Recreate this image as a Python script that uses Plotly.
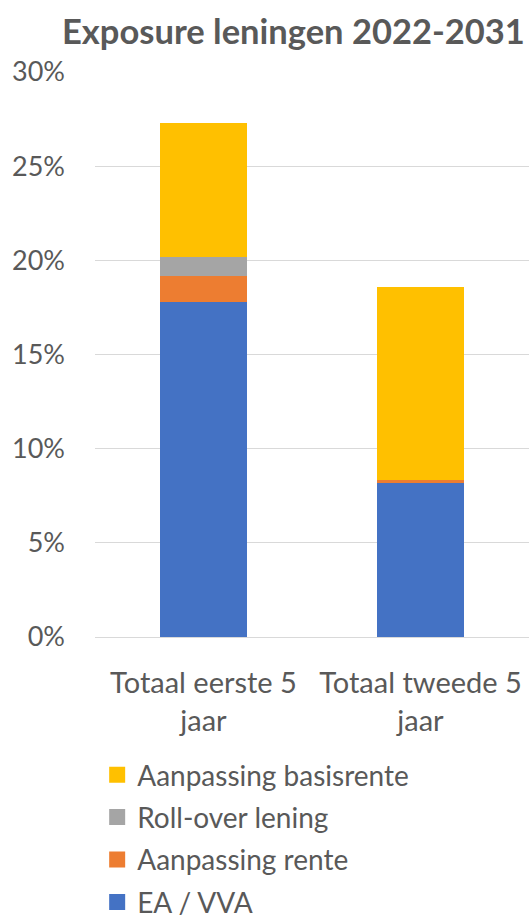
import plotly.graph_objects as go

categories = ["Totaal eerste 5<br>jaar", "Totaal tweede 5<br>jaar"]
series_names = ["EA / VVA", "Aanpassing rente", "Roll-over lening", "Aanpassing basisrente"]
ea_vva = [17.8, 8.2]
aanpassing_rente = [1.35, 0.12]
roll_over = [1.05, 0.0]
aanpassing_basisrente = [7.1, 10.28]
colors = ["#4472C4", "#ED7D31", "#A5A5A5", "#FFC000"]
y_ticks = [0, 5, 10, 15, 20, 25, 30]
y_tick_labels = ["0%", "5%", "10%", "15%", "20%", "25%", "30%"]

values = [ea_vva, aanpassing_rente, roll_over, aanpassing_basisrente]
FONT = "Lato"
TXT = "#595959"

fig = go.Figure()
for name, vals, col in zip(series_names, values, colors):
    fig.add_trace(go.Bar(x=categories, y=vals, name=name, marker_color=col,
                         marker_line_width=0, showlegend=False))
# legend proxies (bigger square symbols), top-to-bottom order as in the reference
for name, col in reversed(list(zip(series_names, colors))):
    fig.add_trace(go.Scatter(x=[None], y=[None], mode="markers", name=name,
                             legendgroup=name,
                             marker=dict(symbol="square", size=16, color=col)))

fig.update_layout(
    width=529, height=918,
    barmode="stack", bargap=0.6,
    plot_bgcolor="white", paper_bgcolor="white",
    margin=dict(l=95, r=0, t=72, b=281),
    font=dict(family=FONT, color=TXT, size=28),
    title=dict(text="<b>Exposure leningen 2022-2031</b>",
               font=dict(family=FONT, size=34.5, color=TXT),
               xref="container", x=62/529, xanchor="left",
               yref="container", y=1-32/918, yanchor="middle"),
    showlegend=True,
    legend=dict(traceorder="grouped", tracegroupgap=3,
                xref="paper", x=0.005, xanchor="left",
                yref="container", y=1-750/918, yanchor="top",
                font=dict(family=FONT, size=28, color=TXT),
                bgcolor="rgba(0,0,0,0)"),
    xaxis=dict(showgrid=False, showline=False, ticks="",
               tickfont=dict(family=FONT, size=29, color=TXT),
               ticklabelstandoff=26),
    yaxis=dict(range=[0, 30], tickvals=y_ticks, ticktext=y_tick_labels,
               showgrid=True, gridcolor="#D9D9D9", gridwidth=1,
               zeroline=True, zerolinecolor="#D9D9D9", zerolinewidth=1,
               showline=False, ticks="",
               tickfont=dict(family=FONT, size=27, color=TXT),
               ticklabelstandoff=29),
)

fig.write_html("out.html")
